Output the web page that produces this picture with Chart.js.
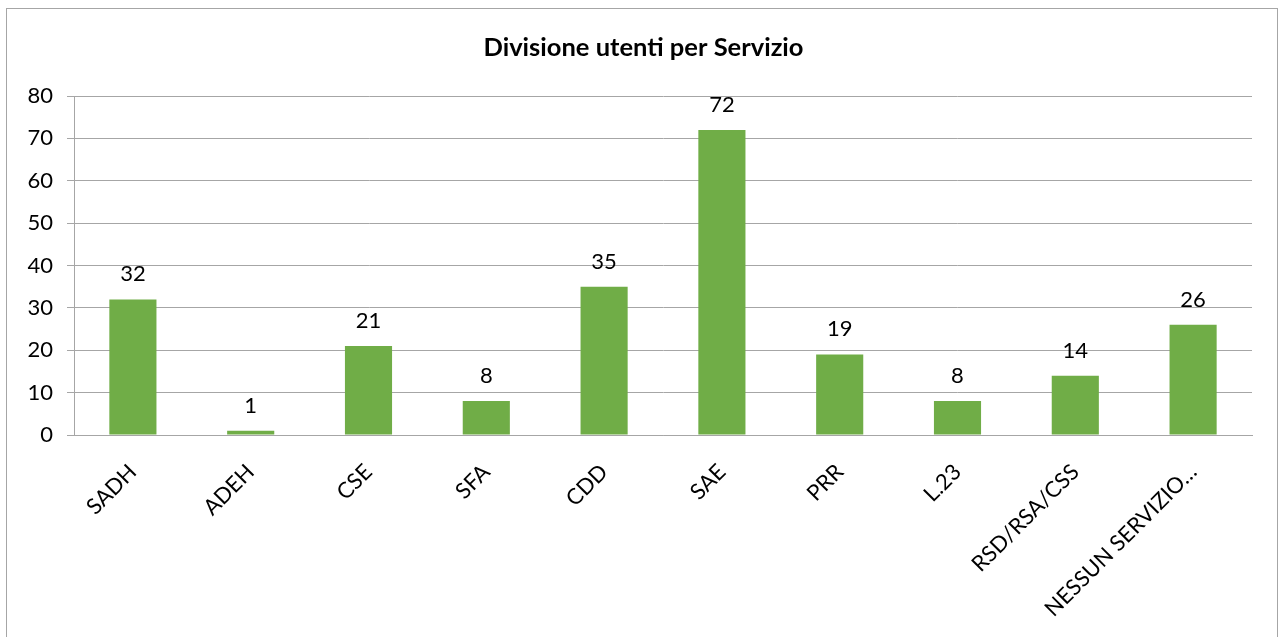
<!DOCTYPE html>
<html>
<head>
  <title>Divisione utenti per Servizio</title>
  <meta charset="utf-8">
  <style>
    body { margin: 0; background: #fff; overflow: hidden; }
    #frame { position: absolute; left: 6px; top: 8px; width: 1272px; height: 660px; border: 1px solid #a6a6a6; box-sizing: border-box; }
    #wrap { position: absolute; left: 0; top: 0; width: 1281px; height: 637px; }
  </style>
  <script src="https://cdn.jsdelivr.net/npm/chart.js"></script>
</head>
<body>
  <div id="frame"></div>
  <div id="wrap"><canvas id="myChart" width="1281" height="637"></canvas></div>
  <script>
    var chartTitle = 'Divisione utenti per Servizio';
    var servizi = ['SADH', 'ADEH', 'CSE', 'SFA', 'CDD', 'SAE', 'PRR', 'L.23', 'RSD/RSA/CSS', 'NESSUN SERVIZIO…'];
    var utenti = [32, 1, 21, 8, 35, 72, 19, 8, 14, 26];
    var yTicks = [0, 10, 20, 30, 40, 50, 60, 70, 80];

    var fontName = 'Lato, "Noto Sans", sans-serif';

    // title centred on the whole canvas + numbers above each bar
    var valueLabels = {
      id: 'valueLabels',
      afterDatasetsDraw: function(chart) {
        var ctx = chart.ctx;
        var meta = chart.getDatasetMeta(0);
        ctx.save();
        ctx.fillStyle = '#000';
        ctx.textAlign = 'center';
        ctx.textBaseline = 'middle';
        ctx.font = 'bold 25.5px ' + fontName;
        ctx.fillText(chartTitle, chart.width / 2 + 3, 48);

        ctx.font = '22px ' + fontName;
        ctx.textBaseline = 'alphabetic';
        meta.data.forEach(function(bar, i) {
          ctx.fillText(String(utenti[i]), bar.x, bar.y - 18);
        });
        ctx.restore();
      }
    };

    const ctx = document.getElementById('myChart');
    var chart = new Chart(ctx, {
      type: 'bar',
      data: {
        labels: servizi,
        datasets: [{
          label: 'Utenti',
          data: utenti,
          backgroundColor: '#70ad47',
          borderWidth: 0,
          barPercentage: 0.4,
          categoryPercentage: 1.0
        }]
      },
      options: {
        responsive: false,
        animation: false,
        devicePixelRatio: 1,
        layout: { padding: { left: 0, right: 29, top: 96, bottom: 0 } },
        plugins: {
          legend: { display: false },
          tooltip: { enabled: false },
          title: { display: false }
        },
        scales: {
          y: {
            min: 0,
            max: 80,
            afterBuildTicks: function(scale) {
              scale.ticks = yTicks.map(function(v) { return { value: v }; });
            },
            afterFit: function(scale) { scale.width = 74; },
            ticks: { color: '#000', padding: 14, font: { family: fontName, size: 22 } },
            grid: { color: '#a6a6a6', lineWidth: 1, tickLength: 7, drawTicks: true },
            border: { display: true, color: '#a6a6a6' }
          },
          x: {
            afterFit: function(scale) { scale.height = 202; },
            ticks: {
              color: '#000',
              maxRotation: 45,
              minRotation: 45,
              autoSkip: false,
              padding: 16,
              font: { family: fontName, size: 22 }
            },
            grid: { display: false },
            border: { display: true, color: '#a6a6a6' }
          }
        }
      },
      plugins: [valueLabels]
    });
  </script>
</body>
</html>
